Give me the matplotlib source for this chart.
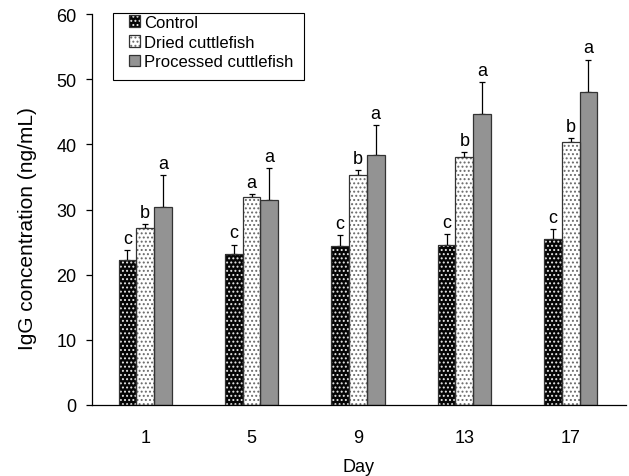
import matplotlib
matplotlib.use("Agg")
from matplotlib import pyplot as plt
from matplotlib.legend_handler import HandlerTuple
from matplotlib.patches import Rectangle
import numpy as np

days = ["1", "5", "9", "13", "17"]
control = [22.3, 23.1, 24.4, 24.6, 25.4]
control_err = [1.5, 1.5, 1.7, 1.6, 1.6]
dried = [27.2, 31.9, 35.3, 38.1, 40.3]
dried_err = [0.6, 0.5, 0.7, 0.7, 0.6]
processed = [30.4, 31.5, 38.3, 44.7, 48.1]
processed_err = [4.9, 4.8, 4.7, 4.8, 4.9]
letters_control = ["c", "c", "c", "c", "c"]
letters_dried = ["b", "a", "b", "b", "b"]
letters_processed = ["a", "a", "a", "a", "a"]

plt.rcParams['font.family'] = ['Liberation Sans', 'DejaVu Sans']
plt.rcParams['hatch.linewidth'] = 0.9

fig = plt.figure(figsize=(6.29, 4.77), dpi=100)
ax = fig.add_axes([92 / 629, 71 / 477, 534 / 629, 391 / 477])

x = np.arange(len(days))
w = 0.167

series = [
    (control, control_err, letters_control, "Control", "#050505", "#e8e8e8", "...."),
    (dried, dried_err, letters_dried, "Dried cuttlefish", "white", "#6a6a6a", "...."),
    (processed, processed_err, letters_processed, "Processed cuttlefish", "#939393", "#939393", None),
]

handles = []
for i, (vals, err, lets, name, face, hcol, hatch) in enumerate(series):
    pos = x + (i - 1) * w
    b1 = ax.bar(pos, vals, w, color=face, edgecolor=hcol, hatch=hatch, linewidth=0, zorder=2)
    b2 = ax.bar(pos, vals, w, facecolor="none", edgecolor="#333333", linewidth=0.9, zorder=3)
    ax.errorbar(pos, vals, yerr=[[0] * len(vals), err], fmt="none", ecolor="black",
                elinewidth=0.9, capsize=2.5, capthick=0.9, zorder=1)
    for p, v, e, t in zip(pos, vals, err, lets):
        ax.text(p, v + e + 0.5, t, ha="center", va="bottom", fontsize=13)
    handles.append((b1[0], b2[0]))

ax.set_xlim(-0.5, 4.52)
ax.set_ylim(0, 60)
ax.set_yticks(range(0, 61, 10))
ax.set_xticks(x)
ax.set_xticklabels(days)
ax.tick_params(axis="x", length=0, pad=17, labelsize=13)
ax.tick_params(axis="y", direction="out", length=4.3, width=0.9, pad=7, labelsize=13)
ax.spines["top"].set_visible(False)
ax.spines["right"].set_visible(False)
ax.spines["left"].set_linewidth(0.9)
ax.spines["bottom"].set_linewidth(0.9)
ax.set_xlabel("Day", fontsize=13, labelpad=9)
ax.set_ylabel("IgG concentration (ng/mL)", fontsize=15)
ax.yaxis.set_label_coords(-55 / 534, 0.455)

# legend box drawn separately so the padding matches
ax.add_patch(Rectangle((21 / 534, 1 - 66 / 391), 191 / 534, 67 / 391, transform=ax.transAxes,
                       facecolor="white", edgecolor="black", linewidth=0.8, zorder=4,
                       clip_on=False))
leg = ax.legend(handles, [s[3] for s in series],
                handler_map={tuple: HandlerTuple(ndivide=1, pad=0)},
                loc="upper left", bbox_to_anchor=(37 / 534, 1 - 1 / 391), fontsize=12,
                frameon=False, handlelength=0.68, handleheight=0.68, handletextpad=0.25,
                labelspacing=0.28, borderpad=0, borderaxespad=0)
leg.set_zorder(5)

fig.savefig("out.png", dpi=100)
